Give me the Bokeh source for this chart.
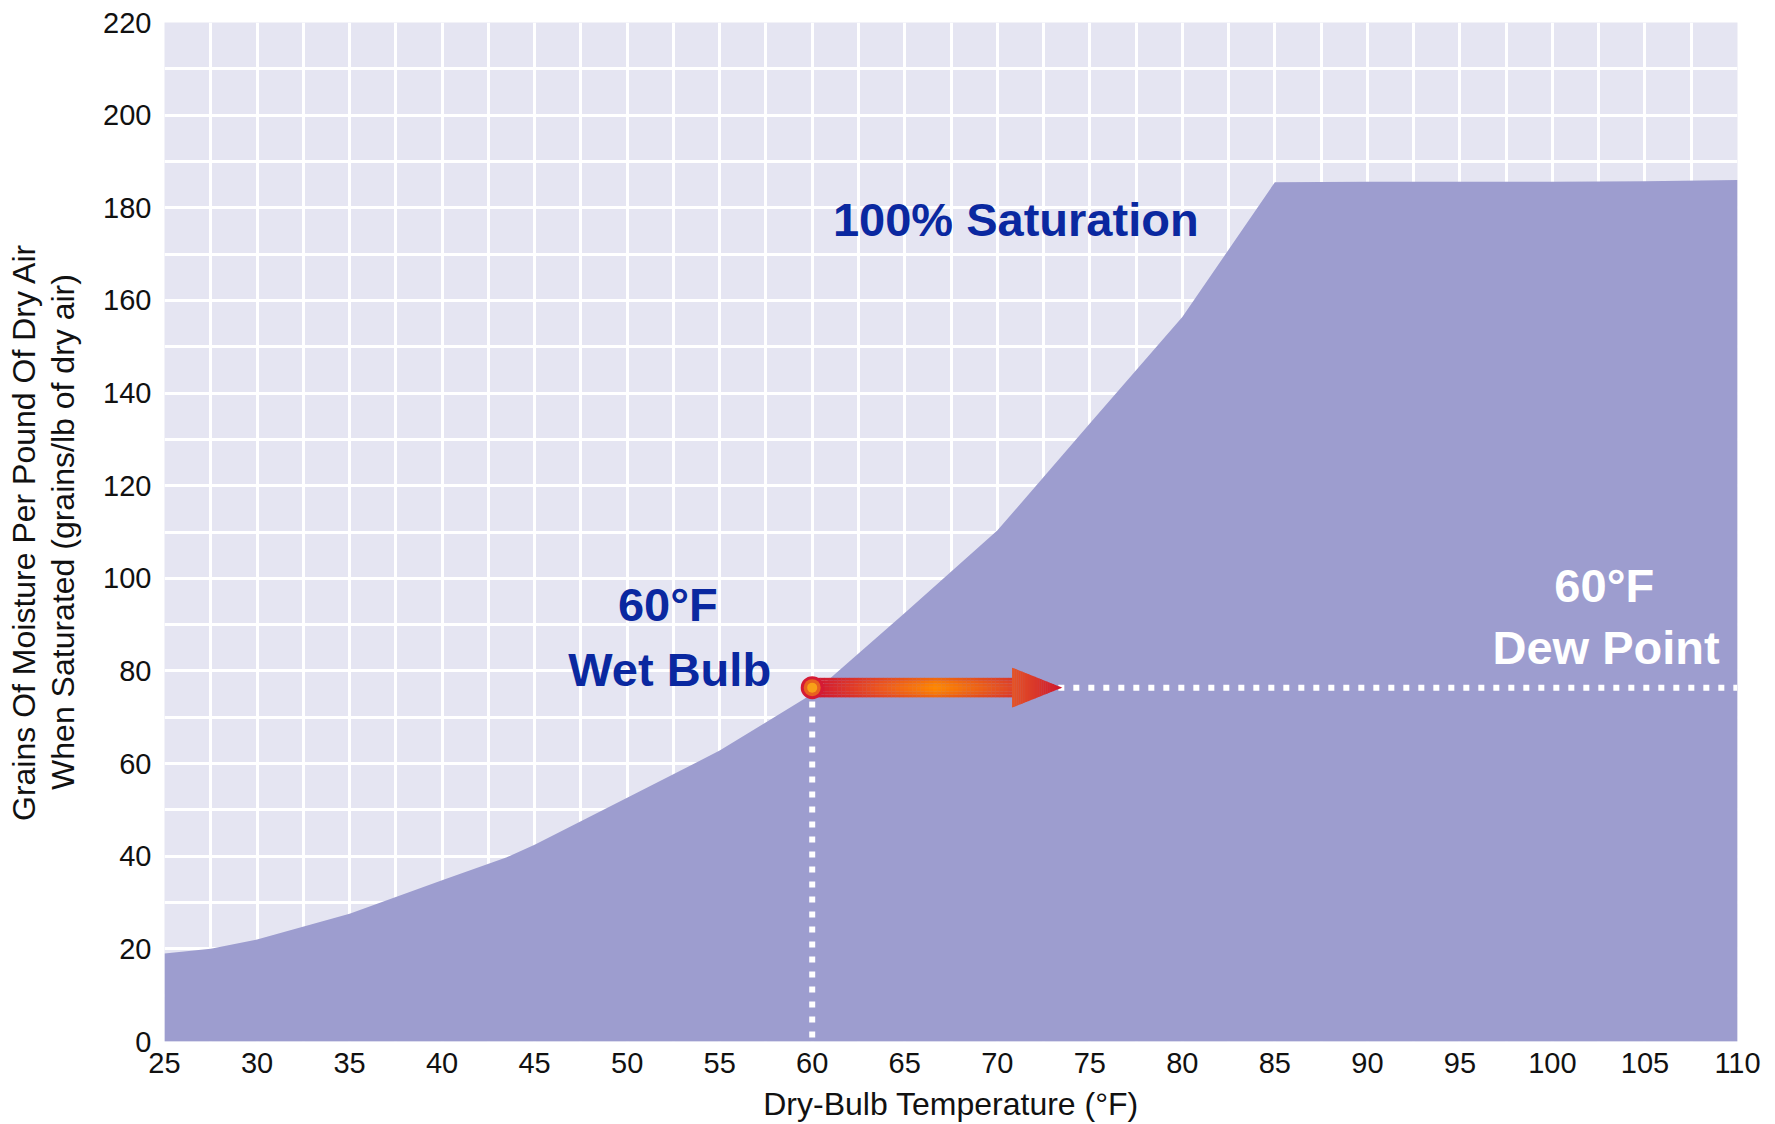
from bokeh.plotting import figure
from bokeh.models import SingleIntervalTicker
from bokeh.core.properties import value
from bokeh.embed import file_html
from bokeh.resources import INLINE

# ---- data ----
temps_f = [25, 27.5, 30, 35, 40, 43.5, 45, 50, 55, 60, 65, 70, 75, 80, 85, 90, 95, 100, 105, 110]
grains_sat = [19.0, 20.0, 22.0, 27.6, 34.8, 39.8, 42.5, 52.6, 62.8, 75.0, 92.5, 110.3, 133.4, 156.4,
              185.5, 185.6, 185.6, 185.6, 185.7, 186.0]
x_tick_step = 5
y_tick_step = 20

wet_bulb_temp = 60
wet_bulb_grains = 76.4
arrow_end_temp = 73.5

labels_blue = ["100% Saturation", "60°F", "Wet Bulb"]
labels_blue_x = [71.0, 52.2, 52.3]
labels_blue_y = [177.4, 94.4, 80.4]
labels_white = ["60°F", "Dew Point"]
labels_white_x = [102.8, 102.9]
labels_white_y = [98.5, 85.0]

FONT = "Liberation Sans"

p = figure(width=1770, height=1124, x_range=(25, 110), y_range=(0, 220),
           output_backend="svg", toolbar_location=None,
           min_border_left=164, min_border_right=33, min_border_top=22, min_border_bottom=83)
p.background_fill_color = "#E5E5F2"
p.border_fill_color = "white"
p.outline_line_color = None

# grid
p.xgrid.ticker = SingleIntervalTicker(interval=2.5)
p.ygrid.ticker = SingleIntervalTicker(interval=10)
for g in (p.xgrid, p.ygrid):
    g.grid_line_color = "white"
    g.grid_line_width = 3
    g.grid_line_alpha = 1.0

# axes
p.xaxis.ticker = SingleIntervalTicker(interval=x_tick_step, num_minor_ticks=0)
p.yaxis.ticker = SingleIntervalTicker(interval=y_tick_step, num_minor_ticks=0)
for ax in (p.xaxis, p.yaxis):
    ax.axis_line_color = None
    ax.major_tick_line_color = None
    ax.minor_tick_line_color = None
    ax.major_tick_out = 0
    ax.major_tick_in = 0
    ax.major_label_text_font = FONT
    ax.major_label_text_font_size = "29px"
    ax.major_label_text_color = "#111111"
    ax.axis_label_text_font = FONT
    ax.axis_label_text_font_size = "32px"
    ax.axis_label_text_font_style = "normal"
    ax.axis_label_text_color = "#111111"
p.xaxis.major_label_standoff = 11
p.yaxis.major_label_standoff = 13
p.xaxis.axis_label = "Dry-Bulb Temperature (°F)"
p.xaxis.axis_label_standoff = 10
p.yaxis.axis_label = "Grains Of Moisture Per Pound Of Dry Air\nWhen Saturated (grains/lb of dry air)"
p.yaxis.axis_label_standoff = 19
p.yaxis.axis_label_text_line_height = 1.1

# saturated area
p.varea(x=temps_f, y1=[0] * len(temps_f), y2=grains_sat, fill_color="#9D9DCF")

# dotted guide lines
p.line(x=[wet_bulb_temp, wet_bulb_temp], y=[wet_bulb_grains - 3.0, 0], line_color="white",
       line_width=6, line_dash="6 9", line_cap="butt")
p.line(x=[arrow_end_temp - 0.2, 110], y=[wet_bulb_grains, wet_bulb_grains], line_color="white",
       line_width=6, line_dash="6 9", line_cap="butt")

# gradient arrow (shaft)
def lerp(a, b, t):
    return tuple(a[i] + (b[i] - a[i]) * t for i in range(3))

def grad(t, stops):
    for (t0, c0), (t1, c1) in zip(stops[:-1], stops[1:]):
        if t <= t1:
            return lerp(c0, c1, (t - t0) / (t1 - t0))
    return stops[-1][1]

def hexc(c):
    return "#%02x%02x%02x" % tuple(int(round(max(0, min(255, v)))) for v in c)

shaft_stops = [(0.0, (208, 20, 52)), (0.35, (238, 90, 30)), (0.62, (255, 136, 0)), (1.0, (224, 70, 40))]
edge_red = (200, 20, 48)
head_base = arrow_end_temp - 2.7
shaft_half = 2.1
head_half = 4.3
n_seg, n_band = 48, 7
L, R, B, T, C = [], [], [], [], []
for i in range(n_seg):
    x0 = wet_bulb_temp + (head_base - wet_bulb_temp) * i / n_seg
    x1 = wet_bulb_temp + (head_base - wet_bulb_temp) * (i + 1) / n_seg
    base = grad((i + 0.5) / n_seg, shaft_stops)
    for j in range(n_band):
        y0 = wet_bulb_grains - shaft_half + 2 * shaft_half * j / n_band
        y1 = wet_bulb_grains - shaft_half + 2 * shaft_half * (j + 1) / n_band
        d = abs((j + 0.5) / n_band * 2 - 1)
        col = lerp(base, edge_red, 0.35 * d ** 2)
        L.append(x0); R.append(x1 + 0.02); B.append(y0); T.append(y1 + 0.02); C.append(hexc(col))
p.quad(left=L, right=R, bottom=B, top=T, fill_color=C, line_color=None)

# arrow head
head_stops = [(0.0, (228, 84, 38)), (1.0, (206, 22, 46))]
xs, ys, hc = [], [], []
m = 24
for k in range(m):
    xa = head_base + (arrow_end_temp - head_base) * k / m
    xb = head_base + (arrow_end_temp - head_base) * (k + 1) / m
    ha = head_half * (1 - k / m)
    hb = head_half * (1 - (k + 1) / m)
    xs.append([xa, xb + 0.02, xb + 0.02, xa])
    ys.append([wet_bulb_grains - ha, wet_bulb_grains - hb, wet_bulb_grains + hb, wet_bulb_grains + ha])
    hc.append(hexc(grad((k + 0.5) / m, head_stops)))
p.patches(xs=xs, ys=ys, fill_color=hc, line_color=None)

# wet-bulb point
p.scatter(x=[wet_bulb_temp], y=[wet_bulb_grains], size=23, fill_color="#D51A34", line_color=None)
p.scatter(x=[wet_bulb_temp], y=[wet_bulb_grains], size=17, fill_color="#E8621F", line_color=None)
p.scatter(x=[wet_bulb_temp], y=[wet_bulb_grains], size=10, fill_color="#F8A018", line_color=None)

# annotations
p.text(x=labels_blue_x, y=labels_blue_y, text=labels_blue, text_font=value(FONT),
       text_font_style="bold", text_font_size="47px", text_align="center",
       text_baseline="alphabetic", text_color="#0A28A0")
p.text(x=labels_white_x, y=labels_white_y, text=labels_white, text_font=value(FONT),
       text_font_style="bold", text_font_size="47px", text_align="center",
       text_baseline="alphabetic", text_color="white")

open("out.html", "w").write(file_html(p, INLINE))
